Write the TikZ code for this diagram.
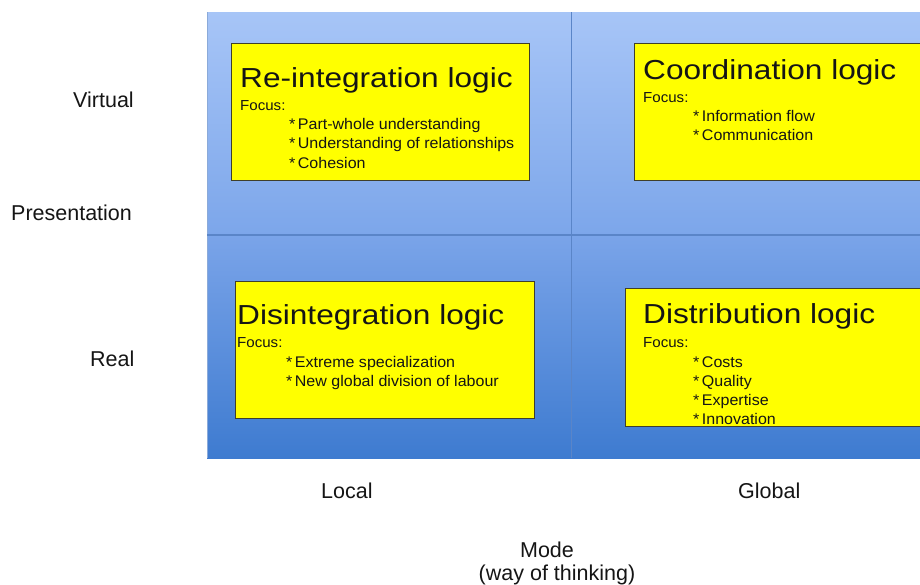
\documentclass[tikz,border=0pt]{standalone}
\usepackage{fontspec}
\setmainfont{Liberation Sans}
\newfontfamily\titlefont[FakeStretch=1.15]{Liberation Sans}
\newfontfamily\bodyfont[FakeStretch=1.04]{Liberation Sans}
\definecolor{topA}{HTML}{A7C5F7}
\definecolor{topB}{HTML}{7CA6EA}
\definecolor{botA}{HTML}{7AA4E9}
\definecolor{botB}{HTML}{3E7BD0}
\definecolor{divline}{HTML}{5A85C8}
\definecolor{boxyellow}{HTML}{FFFF00}
\definecolor{boxedge}{HTML}{3F3F2A}
\definecolor{txt}{HTML}{151515}
\tikzset{
  ybox/.style={draw=boxedge, line width=0.8pt, fill=boxyellow, rectangle, inner sep=0pt, anchor=north west},
  ttl/.style={inner sep=0pt, anchor=base west, text=txt, font=\titlefont\fontsize{27.5}{30}\selectfont},
  focus/.style={inner sep=0pt, anchor=base west, text=txt, font=\bodyfont\fontsize{14.5}{17}\selectfont},
  item/.style={inner sep=0pt, anchor=base west, text=txt, font=\bodyfont\fontsize{15.4}{18}\selectfont},
  lbl/.style={inner sep=0pt, anchor=base west, text=txt, font=\fontsize{21.5}{25}\selectfont},
  divider/.style={draw=divline, line width=1.3pt}
}
\newcommand{\bul}{*\hspace{2.5pt}}
\begin{document}
\begin{tikzpicture}[x=1pt,y=-1pt]
\useasboundingbox (0,0) rectangle (920,584);
\clip (0,0) rectangle (920,584);
% background quadrants
\shade[top color=topA, bottom color=topB] (207,12) rectangle (930,235);
\shade[top color=botA, bottom color=botB] (207,235) rectangle (930,458);
\draw[draw=divline!70, line width=0.6pt] (207,12) -- (207,458);
\coordinate (hl) at (207,235);
\coordinate (hr) at (930,235);
\coordinate (vt) at (571.5,12);
\coordinate (vb) at (571.5,458);
\draw[divider] (hl) -- (hr);
\draw[divider] (vt) -- (vb);

% Re-integration
\node[ybox, minimum width=298pt, minimum height=137pt] (reint) at (231,43) {};
\node[ttl] (reintT) at (240,87) {Re-integration logic};
\node[focus] (reintF) at (240,110) {Focus:};
\node[item] (reint1) at (289,129) {\bul Part-whole understanding};
\node[item] (reint2) at (289,148) {\bul Understanding of relationships};
\node[item] (reint3) at (289,168) {\bul Cohesion};

% Coordination
\node[ybox, minimum width=300pt, minimum height=137pt] (coord) at (634,43) {};
\node[ttl] (coordT) at (643,79) {Coordination logic};
\node[focus] (coordF) at (643,102) {Focus:};
\node[item] (coord1) at (693,121) {\bul Information flow};
\node[item] (coord2) at (693,140) {\bul Communication};

% Disintegration
\node[ybox, minimum width=299pt, minimum height=137pt] (disint) at (235,281) {};
\node[ttl] (disintT) at (237,324) {Disintegration logic};
\node[focus] (disintF) at (237,347) {Focus:};
\node[item] (disint1) at (286,367) {\bul Extreme specialization};
\node[item] (disint2) at (286,386) {\bul New global division of labour};

% Distribution
\node[ybox, minimum width=310pt, minimum height=138pt] (distr) at (625,288) {};
\begin{scope}
\clip (625,288) rectangle (935,425.5);
\node[ttl] (distrT) at (643,323) {Distribution logic};
\node[focus] (distrF) at (643,347) {Focus:};
\node[item] (distr1) at (693,367) {\bul Costs};
\node[item] (distr2) at (693,386) {\bul Quality};
\node[item] (distr3) at (693,405) {\bul Expertise};
\node[item] (distr4) at (693,424) {\bul Innovation};
\end{scope}
\draw[draw=boxedge, line width=0.8pt] (distr.north west) rectangle (distr.south east);

% axis labels
\node[lbl] (virtual) at (73,107) {Virtual};
\node[lbl] (present) at (11,220) {Presentation};
\node[lbl] (real) at (90,366) {Real};
\node[lbl] (local) at (321,498) {Local};
\node[lbl] (global) at (738,498) {Global};
\node[lbl, anchor=base] (mode) at (547,557) {Mode};
\node[lbl, anchor=base] (way) at (557,580) {(way of thinking)};
\end{tikzpicture}
\end{document}
